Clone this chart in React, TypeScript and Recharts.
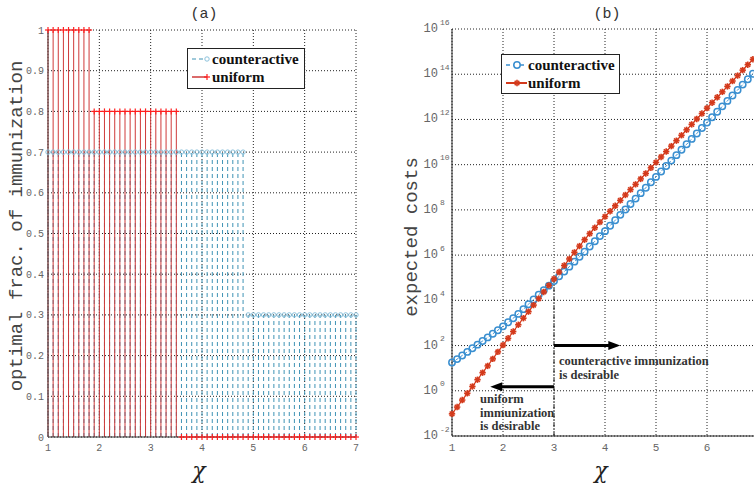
import React from 'react';
import { ComposedChart, XAxis, YAxis, CartesianGrid, Scatter, Line, ReferenceLine } from 'recharts';

const mono = "'Liberation Mono', 'DejaVu Sans Mono', monospace";
const serif = "'Liberation Serif', 'DejaVu Serif', serif";

// chi values (shared by both panels)
const chi = [
    1.0, 1.1, 1.2, 1.3, 1.4, 1.5, 1.6, 1.7, 1.8, 1.9,
    2.0, 2.1, 2.2, 2.3, 2.4, 2.5, 2.6, 2.7, 2.8, 2.9,
    3.0, 3.1, 3.2, 3.3, 3.4, 3.5, 3.6, 3.7, 3.8, 3.9,
    4.0, 4.1, 4.2, 4.3, 4.4, 4.5, 4.6, 4.7, 4.8, 4.9,
    5.0, 5.1, 5.2, 5.3, 5.4, 5.5, 5.6, 5.7, 5.8, 5.9,
    6.0, 6.1, 6.2, 6.3, 6.4, 6.5, 6.6, 6.7, 6.8, 6.9,
    7.0,
];

// (a) optimal fraction of immunization
const uniformFrac = [
    1, 1, 1, 1, 1, 1, 1, 1, 1, 0.8,
    0.8, 0.8, 0.8, 0.8, 0.8, 0.8, 0.8, 0.8, 0.8, 0.8,
    0.8, 0.8, 0.8, 0.8, 0.8, 0.8, 0, 0, 0, 0,
    0, 0, 0, 0, 0, 0, 0, 0, 0, 0,
    0, 0, 0, 0, 0, 0, 0, 0, 0, 0,
    0, 0, 0, 0, 0, 0, 0, 0, 0, 0,
    0,
];
const counterFrac = [
    0.7, 0.7, 0.7, 0.7, 0.7, 0.7, 0.7, 0.7, 0.7, 0.7,
    0.7, 0.7, 0.7, 0.7, 0.7, 0.7, 0.7, 0.7, 0.7, 0.7,
    0.7, 0.7, 0.7, 0.7, 0.7, 0.7, 0.7, 0.7, 0.7, 0.7,
    0.7, 0.7, 0.7, 0.7, 0.7, 0.7, 0.7, 0.7, 0.7, 0.3,
    0.3, 0.3, 0.3, 0.3, 0.3, 0.3, 0.3, 0.3, 0.3, 0.3,
    0.3, 0.3, 0.3, 0.3, 0.3, 0.3, 0.3, 0.3, 0.3, 0.3,
    0.3,
];

// (b) expected costs, stored as log10 of the cost
const uniformCostExp = [
    -1.02, -0.72, -0.41, -0.11, 0.19, 0.49, 0.80, 1.10, 1.41, 1.72,
    2.02, 2.32, 2.62, 2.92, 3.21, 3.50, 3.79, 4.08, 4.37, 4.66,
    4.95, 5.25, 5.54, 5.83, 6.12, 6.40, 6.68, 6.95, 7.21, 7.46,
    7.70, 7.94, 8.18, 8.42, 8.66, 8.90, 9.13, 9.37, 9.61, 9.86,
    10.10, 10.34, 10.58, 10.82, 11.06, 11.30, 11.54, 11.78, 12.02, 12.26,
    12.50, 12.74, 12.98, 13.22, 13.46, 13.70, 13.94, 14.18, 14.42, 14.66,
    14.90,
];
const counterCostExp = [
    1.25, 1.40, 1.56, 1.72, 1.88, 2.04, 2.20, 2.36, 2.52, 2.68,
    2.85, 3.03, 3.21, 3.40, 3.61, 3.83, 4.04, 4.25, 4.45, 4.65,
    4.85, 5.06, 5.27, 5.49, 5.71, 5.93, 6.15, 6.38, 6.61, 6.84,
    7.06, 7.30, 7.54, 7.78, 8.02, 8.26, 8.50, 8.74, 8.98, 9.22,
    9.46, 9.70, 9.94, 10.18, 10.42, 10.66, 10.90, 11.14, 11.38, 11.62,
    11.86, 12.10, 12.34, 12.58, 12.82, 13.06, 13.30, 13.54, 13.78, 14.02,
    14.26,
];

const xTicks = [1, 2, 3, 4, 5, 6, 7];
const costXTicks = [1, 2, 3, 4, 5, 6];
const fracTicks = [0, 0.1, 0.2, 0.3, 0.4, 0.5, 0.6, 0.7, 0.8, 0.9, 1];
const costTicks = [1e-2, 1e0, 1e2, 1e4, 1e6, 1e8, 1e10, 1e12, 1e14, 1e16];

// annotation anchors on panel (b)
const switchChi = 3;
const switchCost = 7e4;
const rightArrow = { to: 4.3, level: 100 };
const leftArrow = { to: 1.75, level: 1.5 };

const fracData = chi.map((x, i) => ({ x, uniform: uniformFrac[i], counter: counterFrac[i] }));
const costData = chi.map((x, i) => ({ x, uniform: 10 ** uniformCostExp[i], counter: 10 ** counterCostExp[i] }));

const RED_STEM = '#cf3a3a';
const RED_MARK = '#ff1f1f';
const BLUE_STEM = '#3f93b5';
const BLUE_MARK = '#8cc2dc';
const COST_BLUE = '#3a8fd0';
const COST_RED = '#d43a1c';

const PlusMark = (p: any) => {
    const { cx, cy } = p;
    if (cx == null || cy == null) return null;
    return (
        <g stroke={RED_MARK} strokeWidth={1.2}>
            <line x1={cx - 3} y1={cy} x2={cx + 3} y2={cy} />
            <line x1={cx} y1={cy - 3} x2={cx} y2={cy + 3} />
        </g>
    );
};

const SmallCircle = (p: any) => {
    const { cx, cy } = p;
    if (cx == null || cy == null) return null;
    return <circle cx={cx} cy={cy} r={2.2} fill="none" stroke={BLUE_MARK} strokeWidth={1} />;
};

const CostCircle = (p: any) => {
    const { cx, cy, index } = p;
    if (cx == null || cy == null) return null;
    return <circle key={`c-${index}`} cx={cx} cy={cy} r={3.2} fill="#fff" fillOpacity={0} stroke={COST_BLUE} strokeWidth={1.5} />;
};

const CostStar = (p: any) => {
    const { cx, cy, index } = p;
    if (cx == null || cy == null) return null;
    const r = 3.2;
    const d = r * 0.72;
    return (
        <g key={`s-${index}`} stroke={COST_RED} strokeWidth={1.6}>
            <line x1={cx - r} y1={cy} x2={cx + r} y2={cy} />
            <line x1={cx} y1={cy - r} x2={cx} y2={cy + r} />
            <line x1={cx - d} y1={cy - d} x2={cx + d} y2={cy + d} />
            <line x1={cx - d} y1={cy + d} x2={cx + d} y2={cy - d} />
        </g>
    );
};

const PowTick = (p: any) => {
    const { x, y, payload } = p;
    const e = Math.round(Math.log10(payload.value));
    return (
        <g fontFamily={mono} fill="#666">
            <text x={x - 14} y={y} textAnchor="end" dominantBaseline="central" fontSize={12}>10</text>
            <text x={x - 12} y={y - 7} textAnchor="start" dominantBaseline="central" fontSize={8}>{e}</text>
        </g>
    );
};

const Arrow = (p: any) => {
    const { x1, y1, x2, y2 } = p;
    if (x1 == null) return null;
    const dir = Math.sign(x2 - x1);
    return (
        <g>
            <line x1={x1} y1={y1} x2={x2 - dir * 9} y2={y2} stroke="#000" strokeWidth={3} />
            <polygon points={`${x2},${y2} ${x2 - dir * 12},${y2 - 4.5} ${x2 - dir * 12},${y2 + 4.5}`} fill="#000" />
        </g>
    );
};

const legendBox: React.CSSProperties = {
    position: 'absolute',
    background: '#fff',
    border: '1px solid #222',
    fontFamily: serif,
    fontWeight: 700,
    fontSize: 15,
    color: '#111',
    lineHeight: '18px',
    padding: '1px 4px 1px 2px',
    boxSizing: 'border-box',
};

const title: React.CSSProperties = {
    position: 'absolute',
    fontFamily: mono,
    fontSize: 15,
    color: '#333',
    transform: 'translate(-50%, -50%)',
    whiteSpace: 'nowrap',
};

const chiLabel: React.CSSProperties = {
    position: 'absolute',
    fontFamily: "'DejaVu Serif', serif",
    fontStyle: 'italic',
    fontSize: 22,
    color: '#222',
    transform: 'translate(-50%, -50%)',
};

const yLabel: React.CSSProperties = {
    position: 'absolute',
    fontFamily: mono,
    fontSize: 19,
    color: '#444',
    whiteSpace: 'nowrap',
    transform: 'translate(-50%, -50%) rotate(-90deg)',
};

const note: React.CSSProperties = {
    position: 'absolute',
    fontFamily: serif,
    fontWeight: 700,
    fontSize: 12.5,
    color: '#333',
    lineHeight: '13.5px',
    whiteSpace: 'nowrap',
};

export default function App() {
    const axisTick = { fontSize: 10, fill: '#666', fontFamily: mono };
    const costTick = { fontSize: 11, fill: '#666', fontFamily: mono };

    return (
        <div style={{ position: 'absolute', left: 0, top: 0, width: 754, height: 485, overflow: 'hidden', background: '#fff' }}>
            {/* (a) */}
            <div style={{ position: 'absolute', left: 0, top: 0 }}>
                <ComposedChart width={380} height={485} data={fracData} margin={{ top: 30, right: 24, bottom: 28, left: 18 }}>
                    <CartesianGrid stroke="#222" strokeDasharray="1 2" />
                    <XAxis type="number" dataKey="x" domain={[1, 7]} ticks={xTicks} height={20}
                        tickSize={0} tickMargin={7} tick={axisTick} axisLine={{ stroke: '#333' }} />
                    <YAxis type="number" domain={[0, 1]} ticks={fracTicks} width={30}
                        tickSize={0} tickMargin={4} tick={axisTick} axisLine={{ stroke: '#555' }}
                        tickFormatter={(v: number) => (v === 0 || v === 1 ? String(v) : v.toFixed(1))} />
                    <XAxis xAxisId="top" orientation="top" type="number" domain={[1, 7]} height={0}
                        tick={false} tickLine={false} axisLine={{ stroke: '#555' }} />
                    <YAxis yAxisId="right" orientation="right" type="number" domain={[0, 1]} width={0}
                        tick={false} tickLine={false} axisLine={{ stroke: '#444' }} />

                    {chi.map((x, i) => (
                        <ReferenceLine key={`cs-${i}`} segment={[{ x, y: 0 }, { x, y: counterFrac[i] }]}
                            stroke={BLUE_STEM} strokeWidth={1} strokeDasharray="4 3" />
                    ))}
                    {chi.map((x, i) => uniformFrac[i] > 0 ? (
                        <ReferenceLine key={`us-${i}`} segment={[{ x, y: 0 }, { x, y: uniformFrac[i] }]}
                            stroke={RED_STEM} strokeWidth={1} />
                    ) : null)}

                    <Scatter dataKey="counter" shape={SmallCircle} isAnimationActive={false} />
                    <Scatter dataKey="uniform" shape={PlusMark} isAnimationActive={false} />
                </ComposedChart>
            </div>

            {/* (b) */}
            <div style={{ position: 'absolute', left: 380, top: 0 }}>
                <ComposedChart width={400} height={485} data={costData} margin={{ top: 29, right: 22, bottom: 29, left: 42 }}>
                    <CartesianGrid stroke="#222" strokeDasharray="1 2" verticalValues={xTicks} />
                    <XAxis type="number" dataKey="x" domain={[1, 7]} ticks={costXTicks} height={20}
                        tickSize={0} tickMargin={7} tick={costTick} axisLine={{ stroke: '#222' }} />
                    <YAxis type="number" scale="log" domain={[1e-2, 1e16]} ticks={costTicks} allowDataOverflow
                        width={30} tickSize={0} tickMargin={0} tick={<PowTick />} axisLine={{ stroke: '#222' }} />
                    <XAxis xAxisId="top" orientation="top" type="number" domain={[1, 7]} height={0}
                        tick={false} tickLine={false} axisLine={{ stroke: '#222' }} />

                    <ReferenceLine segment={[{ x: switchChi, y: 1e-2 }, { x: switchChi, y: switchCost }]}
                        stroke="#111" strokeWidth={1} strokeDasharray="4 2 1 2" />
                    <ReferenceLine segment={[{ x: switchChi, y: rightArrow.level }, { x: rightArrow.to, y: rightArrow.level }]}
                        shape={Arrow} />
                    <ReferenceLine segment={[{ x: switchChi, y: leftArrow.level }, { x: leftArrow.to, y: leftArrow.level }]}
                        shape={Arrow} />

                    <Line dataKey="counter" stroke={COST_BLUE} strokeWidth={1} strokeDasharray="3 2"
                        dot={CostCircle} activeDot={false} isAnimationActive={false} />
                    <Line dataKey="uniform" stroke={COST_RED} strokeWidth={1.2}
                        dot={CostStar} activeDot={false} isAnimationActive={false} />
                </ComposedChart>
            </div>

            {/* titles and axis labels */}
            <div style={{ ...title, left: 204, top: 14 }}>(a)</div>
            <div style={{ ...title, left: 607, top: 14 }}>(b)</div>
            <div style={{ ...chiLabel, left: 199, top: 470 }}>χ</div>
            <div style={{ ...chiLabel, left: 601, top: 470 }}>χ</div>
            <div style={{ ...yLabel, left: 17, top: 226 }}>optimal frac. of immunization</div>
            <div style={{ ...yLabel, left: 412, top: 237 }}>expected costs</div>

            {/* legend (a) */}
            <div style={{ ...legendBox, left: 187, top: 48, width: 118, height: 41 }}>
                <div style={{ display: 'flex', alignItems: 'center' }}>
                    <svg width={22} height={18}>
                        <line x1={2} y1={9} x2={15} y2={9} stroke={BLUE_STEM} strokeDasharray="4 3" />
                        <circle cx={17} cy={9} r={2.2} fill="none" stroke={BLUE_MARK} />
                    </svg>
                    <span>counteractive</span>
                </div>
                <div style={{ display: 'flex', alignItems: 'center' }}>
                    <svg width={22} height={18}>
                        <line x1={2} y1={9} x2={17} y2={9} stroke={RED_STEM} strokeWidth={1.5} />
                        <line x1={14} y1={9} x2={20} y2={9} stroke={RED_MARK} strokeWidth={1.2} />
                        <line x1={17} y1={6} x2={17} y2={12} stroke={RED_MARK} strokeWidth={1.2} />
                    </svg>
                    <span>uniform</span>
                </div>
            </div>

            {/* legend (b) */}
            <div style={{ ...legendBox, left: 501, top: 54, width: 119, height: 40 }}>
                <div style={{ display: 'flex', alignItems: 'center' }}>
                    <svg width={24} height={18}>
                        <line x1={2} y1={9} x2={23} y2={9} stroke={COST_BLUE} strokeWidth={1.5} strokeDasharray="4 3" />
                        <circle cx={13} cy={9} r={3.2} fill="#fff" stroke={COST_BLUE} strokeWidth={1.5} />
                    </svg>
                    <span>counteractive</span>
                </div>
                <div style={{ display: 'flex', alignItems: 'center' }}>
                    <svg width={24} height={18}>
                        <line x1={2} y1={9} x2={23} y2={9} stroke={COST_RED} strokeWidth={2} />
                        <CostStar cx={13} cy={9} index={0} />
                    </svg>
                    <span>uniform</span>
                </div>
            </div>

            {/* annotations (b) */}
            <div style={{ ...note, left: 559, top: 355 }}>
                counteractive immunization<br />is desirable
            </div>
            <div style={{ ...note, left: 480, top: 393 }}>
                uniform<br />immunization<br />is desirable
            </div>
        </div>
    );
}
